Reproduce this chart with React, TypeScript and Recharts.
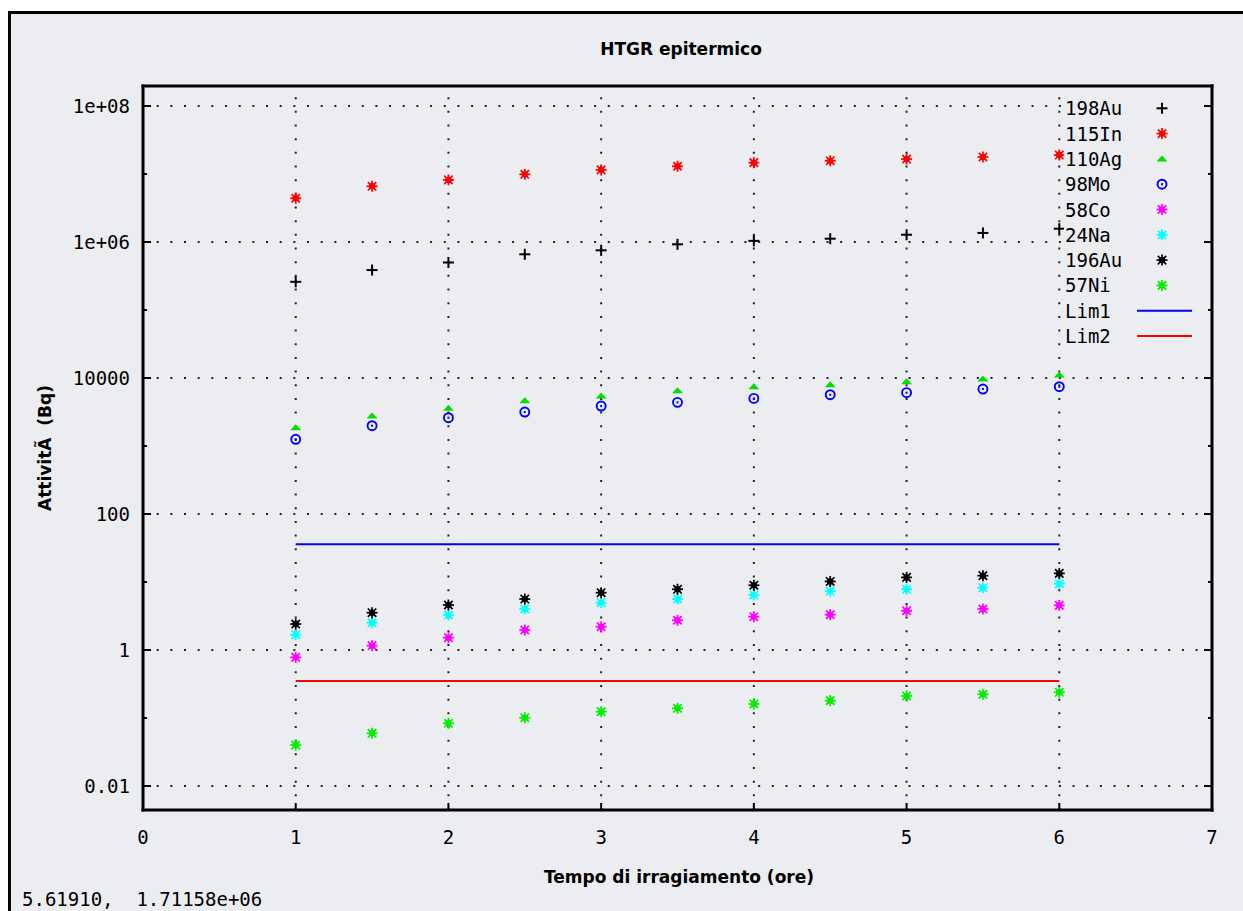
import { Legend, ReferenceLine, Scatter, ScatterChart, XAxis, YAxis } from 'recharts';

// irradiation times (hours)
const hours = [1, 1.5, 2, 2.5, 3, 3.5, 4, 4.5, 5, 5.5, 6];

// activities (Bq)
const au198 = [2.6e5, 3.87e5, 5.0e5, 6.6e5, 7.55e5, 9.25e5, 1.04e6, 1.12e6, 1.28e6, 1.36e6, 1.57e6];
const in115 = [4.4e6, 6.6e6, 8.2e6, 9.9e6, 1.15e7, 1.3e7, 1.47e7, 1.57e7, 1.66e7, 1.78e7, 1.9e7];
const ag110 = [1860, 2760, 3580, 4630, 5430, 6500, 7450, 7970, 8830, 9670, 11060];
const mo98 = [1256, 1990, 2610, 3160, 3870, 4390, 5020, 5680, 6090, 6890, 7450];
const co58 = [0.78, 1.16, 1.52, 1.97, 2.2, 2.74, 3.09, 3.31, 3.78, 4.01, 4.54];
const na24 = [1.68, 2.52, 3.27, 4.01, 4.97, 5.62, 6.44, 7.3, 7.82, 8.25, 9.44];
const au196 = [2.41, 3.54, 4.59, 5.62, 6.97, 7.82, 8.96, 10.2, 11.7, 12.4, 13.4];
const ni57 = [0.04, 0.0596, 0.0836, 0.101, 0.124, 0.139, 0.161, 0.18, 0.211, 0.223, 0.239];

// limit lines
const limHours = [1, 6];
const lim1 = 36;
const lim2 = 0.35;

// axes
const xTicks = [0, 1, 2, 3, 4, 5, 6, 7];
const xGrid = [1, 2, 3, 4, 5, 6];
const yTicks = [0.01, 0.1, 1, 10, 100, 1000, 1e4, 1e5, 1e6, 1e7, 1e8];
const yMajor = [0.01, 1, 100, 1e4, 1e6, 1e8];
const yLabels = ['0.01', '1', '100', '10000', '1e+06', '1e+08'];
const yDomain = [0.00444, 1.97e8];

const MONO = '"DejaVu Sans Mono", monospace';
const SANS = '"DejaVu Sans", sans-serif';
const BG = '#ecedf1';

type Mark = 'plus' | 'star' | 'triangle' | 'ring';

const series: { name: string; values: number[]; color: string; mark: Mark }[] = [
    { name: '198Au', values: au198, color: '#000000', mark: 'plus' },
    { name: '115In', values: in115, color: '#ff0000', mark: 'star' },
    { name: '110Ag', values: ag110, color: '#00e000', mark: 'triangle' },
    { name: '98Mo', values: mo98, color: '#0000ff', mark: 'ring' },
    { name: '58Co', values: co58, color: '#ff00ff', mark: 'star' },
    { name: '24Na', values: na24, color: '#00ffff', mark: 'star' },
    { name: '196Au', values: au196, color: '#000000', mark: 'star' },
    { name: '57Ni', values: ni57, color: '#00ee00', mark: 'star' },
];

const limits = [
    { name: 'Lim1', value: lim1, color: '#0000ff' },
    { name: 'Lim2', value: lim2, color: '#ff0000' },
];

function Marker({ cx, cy, color, mark }: { cx: number; cy: number; color: string; mark: Mark }) {
    if (mark === 'plus') {
        return (
            <g stroke={color} strokeWidth={2}>
                <line x1={cx - 5.5} x2={cx + 5.5} y1={cy} y2={cy} />
                <line x1={cx} x2={cx} y1={cy - 5.5} y2={cy + 5.5} />
            </g>
        );
    }
    if (mark === 'triangle') {
        return <polygon points={`${cx - 5.5},${cy + 2.5} ${cx + 5.5},${cy + 2.5} ${cx},${cy - 3.5}`} fill={color} />;
    }
    if (mark === 'ring') {
        return (
            <g>
                <circle cx={cx} cy={cy} r={4.5} fill="none" stroke={color} strokeWidth={1.9} />
                <rect x={cx - 1} y={cy - 1} width={2} height={2} fill={color} />
            </g>
        );
    }
    const d = 4.2;
    return (
        <g stroke={color} strokeWidth={1.7}>
            <line x1={cx - 5.5} x2={cx + 5.5} y1={cy} y2={cy} />
            <line x1={cx} x2={cx} y1={cy - 5.5} y2={cy + 5.5} />
            <line x1={cx - d} x2={cx + d} y1={cy - d} y2={cy + d} />
            <line x1={cx - d} x2={cx + d} y1={cy + d} y2={cy - d} />
            <circle cx={cx} cy={cy} r={3.2} fill={color} stroke="none" />
        </g>
    );
}

const tickLen = (v: number) => (yMajor.includes(v) ? 8 : 4);

function LeftTick(props: any) {
    const { x, y, payload } = props;
    const i = yMajor.indexOf(payload.value);
    return (
        <g>
            <line x1={x} x2={x + tickLen(payload.value)} y1={y} y2={y} stroke="#000" strokeWidth={2} />
            {i >= 0 && (
                <text x={x - 13} y={y + 7} textAnchor="end" fontFamily={MONO} fontSize={19} fill="#000">
                    {yLabels[i]}
                </text>
            )}
        </g>
    );
}

function RightTick(props: any) {
    const { x, y, payload } = props;
    return <line x1={x} x2={x - tickLen(payload.value)} y1={y} y2={y} stroke="#000" strokeWidth={2} />;
}

function BottomTick(props: any) {
    const { x, y, payload } = props;
    return (
        <g>
            <line x1={x} x2={x} y1={y} y2={y - 7} stroke="#000" strokeWidth={2} />
            <text x={x} y={y + 34} textAnchor="middle" fontFamily={MONO} fontSize={19} fill="#000">
                {payload.value}
            </text>
        </g>
    );
}

function TopTick(props: any) {
    const { x, y } = props;
    return <line x1={x} x2={x} y1={y} y2={y + 7} stroke="#000" strokeWidth={2} />;
}

function KeyBox() {
    const rowH = 25.3;
    return (
        <svg width={134} height={256} style={{ display: 'block' }}>
            {series.map((s, i) => (
                <g key={s.name}>
                    <text x={1} y={12.3 + i * rowH + 7} fontFamily={MONO} fontSize={19} fill="#000">
                        {s.name}
                    </text>
                    <Marker cx={98} cy={12.3 + i * rowH} color={s.color} mark={s.mark} />
                </g>
            ))}
            {limits.map((l, j) => {
                const cy = 12.3 + (series.length + j) * rowH;
                return (
                    <g key={l.name}>
                        <text x={1} y={cy + 7} fontFamily={MONO} fontSize={19} fill="#000">
                            {l.name}
                        </text>
                        <line x1={73} x2={128} y1={cy} y2={cy} stroke={l.color} strokeWidth={2} />
                    </g>
                );
            })}
        </svg>
    );
}

const axisLine = { stroke: '#000', strokeWidth: 3, strokeLinecap: 'square' as const };
const gridStyle = { stroke: '#222', strokeWidth: 2, strokeDasharray: '2 11.67' };

export default function App() {
    return (
        <div style={{ position: 'fixed', left: 0, top: 0, width: 1243, height: 911, overflow: 'hidden', background: '#fff' }}>
            <div
                style={{
                    position: 'absolute',
                    left: 8,
                    top: 11,
                    width: 1260,
                    height: 940,
                    border: '3px solid #000',
                    background: BG,
                }}
            />
            <div style={{ position: 'absolute', left: 0, top: 0 }}>
                <ScatterChart width={1243} height={911} margin={{ top: 85, right: 30, bottom: 61, left: 0 }}>
                    <XAxis
                        xAxisId="b"
                        type="number"
                        dataKey="x"
                        domain={[0, 7]}
                        ticks={xTicks}
                        interval={0}
                        allowDataOverflow
                        height={40}
                        tickSize={0}
                        tickMargin={0}
                        axisLine={axisLine}
                        tickLine={false}
                        tick={<BottomTick />}
                    />
                    <XAxis
                        xAxisId="t"
                        orientation="top"
                        type="number"
                        domain={[0, 7]}
                        ticks={xTicks}
                        interval={0}
                        allowDataOverflow
                        height={1}
                        tickSize={0}
                        tickMargin={0}
                        axisLine={axisLine}
                        tickLine={false}
                        tick={<TopTick />}
                    />
                    <YAxis
                        yAxisId="l"
                        type="number"
                        dataKey="y"
                        scale="log"
                        domain={yDomain}
                        ticks={yTicks}
                        interval={0}
                        allowDataOverflow
                        width={143}
                        tickSize={0}
                        tickMargin={0}
                        axisLine={axisLine}
                        tickLine={false}
                        tick={<LeftTick />}
                    />
                    <YAxis
                        yAxisId="r"
                        orientation="right"
                        type="number"
                        scale="log"
                        domain={yDomain}
                        ticks={yTicks}
                        interval={0}
                        allowDataOverflow
                        width={1}
                        tickSize={0}
                        tickMargin={0}
                        axisLine={axisLine}
                        tickLine={false}
                        tick={<RightTick />}
                    />

                    {yMajor.map((v) => (
                        <ReferenceLine key={`gy${v}`} xAxisId="b" yAxisId="l" y={v} {...gridStyle} />
                    ))}
                    {xGrid.map((v) => (
                        <ReferenceLine key={`gx${v}`} xAxisId="b" yAxisId="l" x={v} {...gridStyle} />
                    ))}

                    {limits.map((l) => (
                        <Scatter
                            key={l.name}
                            name={l.name}
                            xAxisId="b"
                            yAxisId="l"
                            data={limHours.map((x) => ({ x, y: l.value }))}
                            line={{ stroke: l.color, strokeWidth: 2 }}
                            shape={() => <g />}
                            isAnimationActive={false}
                        />
                    ))}
                    {series.map((s) => (
                        <Scatter
                            key={s.name}
                            name={s.name}
                            xAxisId="b"
                            yAxisId="l"
                            data={hours.map((x, i) => ({ x, y: s.values[i] }))}
                            shape={(p: any) => <Marker cx={p.cx} cy={p.cy} color={s.color} mark={s.mark} />}
                            isAnimationActive={false}
                        />
                    ))}

                    <Legend
                        layout="vertical"
                        align="center"
                        verticalAlign="middle"
                        content={() => <KeyBox />}
                        wrapperStyle={{ left: 1064, top: 96, width: 134, height: 256, background: BG }}
                    />
                </ScatterChart>
            </div>
            <svg width={1243} height={911} style={{ position: 'absolute', left: 0, top: 0, pointerEvents: 'none' }}>
                <text x={681} y={55} textAnchor="middle" fontFamily={SANS} fontWeight="bold" fontSize={17} fill="#000">
                    HTGR epitermico
                </text>
                <text x={679} y={883} textAnchor="middle" fontFamily={SANS} fontWeight="bold" fontSize={17} fill="#000">
                    Tempo di irragiamento (ore)
                </text>
                <text
                    x={0}
                    y={0}
                    transform="translate(51 448) rotate(-90)"
                    textAnchor="middle"
                    fontFamily={SANS}
                    fontWeight="bold"
                    fontSize={17}
                    fill="#000"
                >
                    {'AttivitÃ\u00a0 (Bq)'}
                </text>
                <text x={22} y={906} fontFamily={MONO} fontSize={19} fill="#000" xmlSpace="preserve">
                    {'5.61910,  1.71158e+06'}
                </text>
            </svg>
        </div>
    );
}
